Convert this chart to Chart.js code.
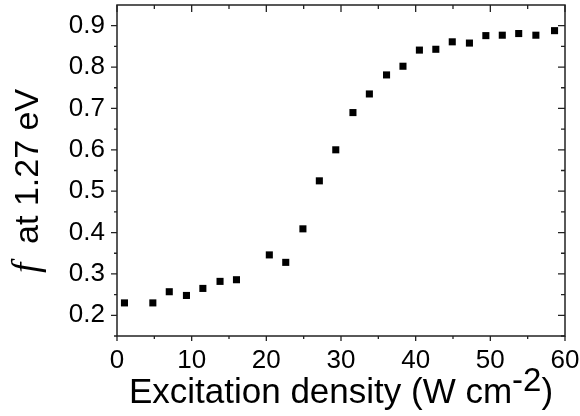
<!DOCTYPE html>
<html>
<head>
<meta charset="utf-8">
<script src="https://cdn.jsdelivr.net/npm/chart.js@4.4.1/dist/chart.umd.min.js"></script>
<style>
  html, body { margin: 0; padding: 0; background: #fff; }
  #wrap { width: 580px; height: 416px; }
</style>
</head>
<body>
<div id="wrap"><canvas id="chart" width="580" height="416"></canvas></div>
<script>
// Excitation density (W cm-2)
const density = [1.0, 4.8, 7.0, 9.3, 11.5, 13.8, 16.0, 20.4, 22.6, 24.9, 27.1, 29.3, 31.6,
                 33.8, 36.1, 38.3, 40.5, 42.7, 44.9, 47.2, 49.4, 51.6, 53.8, 56.1, 58.6];
// f at 1.27 eV
const fValues = [0.230, 0.230, 0.257, 0.248, 0.265, 0.282, 0.286, 0.346, 0.328, 0.409, 0.525, 0.600, 0.690,
                 0.735, 0.781, 0.802, 0.841, 0.843, 0.861, 0.858, 0.876, 0.877, 0.881, 0.877, 0.888];

const xTicks = [0, 10, 20, 30, 40, 50, 60];
const xMinor = [5, 15, 25, 35, 45, 55];
const yTicks = [0.2, 0.3, 0.4, 0.5, 0.6, 0.7, 0.8, 0.9];
const yMinor = [0.15, 0.25, 0.35, 0.45, 0.55, 0.65, 0.75, 0.85];

const sans = '"Liberation Sans", Arial, sans-serif';
const serif = '"Liberation Serif", "Times New Roman", serif';

// frame with ticks on all four sides (outer left/bottom, inner top/right)
const frame = {
    id: 'frame',
    afterDraw(chart) {
        const ctx = chart.ctx;
        const a = chart.chartArea;
        const xs = chart.scales.x, ys = chart.scales.y;
        ctx.save();
        ctx.strokeStyle = '#222';
        ctx.lineWidth = 1.5;
        ctx.strokeRect(a.left, a.top, a.right - a.left, a.bottom - a.top);
        ctx.lineWidth = 1.3;
        ctx.beginPath();
        const tickX = (vals, len, inLen) => {
            vals.forEach(v => {
                const px = xs.getPixelForValue(v);
                ctx.moveTo(px, a.bottom); ctx.lineTo(px, a.bottom + len);
                ctx.moveTo(px, a.top); ctx.lineTo(px, a.top + inLen);
            });
        };
        const tickY = (vals, len, inLen) => {
            vals.forEach(v => {
                const py = ys.getPixelForValue(v);
                ctx.moveTo(a.left, py); ctx.lineTo(a.left - len, py);
                ctx.moveTo(a.right, py); ctx.lineTo(a.right - inLen, py);
            });
        };
        tickX(xTicks, 5, 7);
        tickX(xMinor, 3, 4);
        tickY(yTicks, 6, 7);
        tickY(yMinor, 3, 4);
        ctx.stroke();

        ctx.fillStyle = '#000';
        // x title with superscript
        ctx.textBaseline = 'alphabetic';
        const main = 'Excitation density (W cm';
        const sup = '-2';
        const close = ')';
        ctx.font = '35px ' + sans;
        const wMain = ctx.measureText(main).width;
        const wClose = ctx.measureText(close).width;
        ctx.font = '33px ' + sans;
        const wSup = ctx.measureText(sup).width;
        let x0 = (a.left + a.right) / 2 - (wMain + wSup + wClose) / 2;
        const base = 403;
        ctx.font = '35px ' + sans;
        ctx.fillText(main, x0, base);
        ctx.font = '33px ' + sans;
        ctx.fillText(sup, x0 + wMain, base - 12);
        ctx.font = '35px ' + sans;
        ctx.fillText(close, x0 + wMain + wSup, base);

        // y title, rotated
        ctx.translate(38, 181);
        ctx.rotate(-Math.PI / 2);
        ctx.font = 'italic 37px ' + serif;
        const fTxt = 'f';
        const wf = ctx.measureText(fTxt).width;
        ctx.font = '34px ' + sans;
        const rest = '  at 1.27 eV';
        const wr = ctx.measureText(rest).width;
        const s = -(wf + wr) / 2;
        ctx.font = 'italic 37px ' + serif;
        ctx.fillText(fTxt, s, 0);
        ctx.font = '34px ' + sans;
        ctx.fillText(rest, s + wf, 0);
        ctx.restore();
    }
};

new Chart(document.getElementById('chart'), {
    type: 'scatter',
    data: {
        datasets: [{
            data: density.map((x, i) => ({ x: x, y: fValues[i] })),
            pointStyle: 'rect',
            pointRadius: 5,
            pointHoverRadius: 5,
            pointBorderWidth: 0,
            backgroundColor: '#000',
            borderColor: '#000'
        }]
    },
    options: {
        responsive: false,
        animation: false,
        events: [],
        layout: { padding: { top: 3, right: 15, left: 0, bottom: 0 } },
        plugins: { legend: { display: false }, tooltip: { enabled: false } },
        scales: {
            x: {
                type: 'linear',
                min: 0,
                max: 60,
                afterBuildTicks: s => { s.ticks = xTicks.map(v => ({ value: v })); },
                afterFit: s => { s.height = 80; s.paddingLeft = 0; s.paddingRight = 0; },
                grid: { display: false, drawTicks: false },
                border: { display: false },
                ticks: {
                    autoSkip: false,
                    maxRotation: 0,
                    padding: 9,
                    color: '#000',
                    font: { family: sans, size: 26 }
                }
            },
            y: {
                type: 'linear',
                min: 0.15,
                max: 0.95,
                afterBuildTicks: s => { s.ticks = yTicks.map(v => ({ value: v })); },
                afterFit: s => { s.width = 117; s.paddingTop = 0; s.paddingBottom = 0; },
                grid: { display: false, drawTicks: false },
                border: { display: false },
                ticks: {
                    padding: 12,
                    color: '#000',
                    font: { family: sans, size: 26 },
                    callback: v => v.toFixed(1)
                }
            }
        }
    },
    plugins: [frame]
});
</script>
</body>
</html>
